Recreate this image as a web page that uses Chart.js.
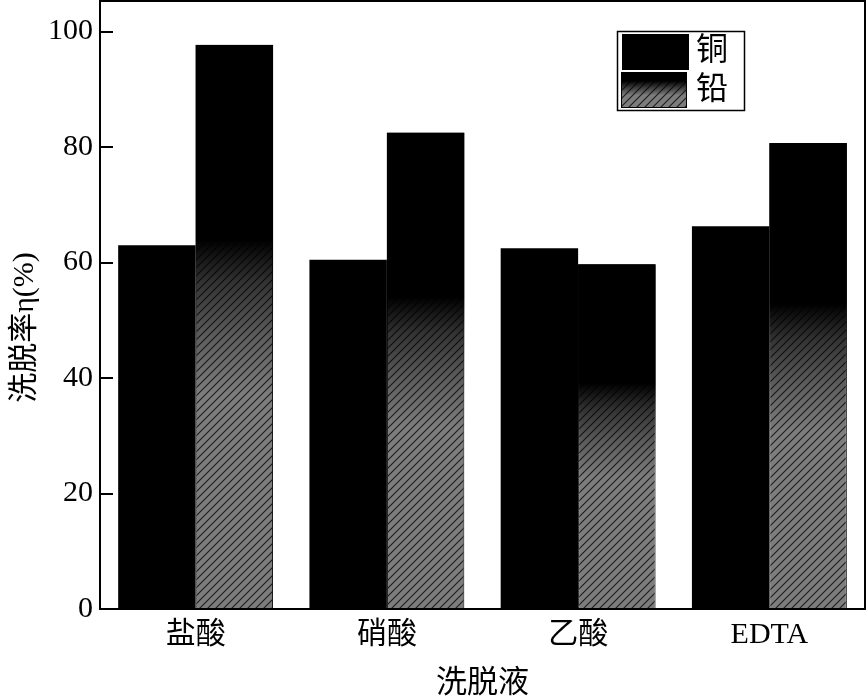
<!DOCTYPE html>
<html>
<head>
<meta charset="utf-8">
<script src="https://cdn.jsdelivr.net/npm/chart.js@4/dist/chart.umd.min.js"></script>
<style>
  html, body { margin: 0; padding: 0; background: #fff; }
  #wrap { width: 868px; height: 699px; }
</style>
</head>
<body>
<div id="wrap"><canvas id="chart"></canvas></div>
<script>
const categories = ["盐酸", "硝酸", "乙酸", "EDTA"];
const copperValues = [63.0, 60.5, 62.5, 66.3];
const leadValues = [97.7, 82.5, 59.7, 80.7];
const seriesLabels = ["铜", "铅"];
const yTicks = [0, 20, 40, 60, 80, 100];

const FONT = "'Liberation Serif', 'Noto Sans CJK SC', serif";

// grey fill with thin dark "/" lines
function makeHatch() {
  const c = document.createElement("canvas");
  c.width = 8; c.height = 8;
  const g = c.getContext("2d");
  g.fillStyle = "#7d7d7d";
  g.fillRect(0, 0, 8, 8);
  g.strokeStyle = "#1e1e1e";
  g.lineWidth = 1.1;
  g.beginPath();
  g.moveTo(-1, 9); g.lineTo(9, -1);
  g.moveTo(-1, 1); g.lineTo(1, -1);
  g.moveTo(7, 9); g.lineTo(9, 7);
  g.stroke();
  return g.createPattern(c, "repeat");
}
const hatch = makeHatch();

// black that fades into the hatch, from the top of a rect downwards
function fadeFill(ctx, x, y, w, h, stops) {
  const grad = ctx.createLinearGradient(0, y, 0, y + h);
  stops.forEach(([p, a]) => grad.addColorStop(p, "rgba(0,0,0," + a + ")"));
  ctx.fillStyle = grad;
  ctx.fillRect(x, y, w, h);
}

const barFade = {
  id: "barFade",
  afterDatasetsDraw(chart) {
    const ctx = chart.ctx;
    const meta = chart.getDatasetMeta(1);
    ctx.save();
    meta.data.forEach(bar => {
      const p = bar.getProps(["x", "y", "base", "width"], true);
      fadeFill(ctx, p.x - p.width / 2, p.y, p.width, p.base - p.y,
        [[0, 1], [0.345, 1], [0.42, 0.6], [0.52, 0.25], [0.62, 0]]);
    });
    ctx.restore();
  }
};

const frame = {
  id: "frame",
  afterDraw(chart) {
    const ctx = chart.ctx;
    const a = chart.chartArea;
    const y = chart.scales.y;
    ctx.save();
    ctx.strokeStyle = "#000";
    ctx.lineWidth = 2;
    ctx.strokeRect(a.left, a.top, a.right - a.left, a.bottom - a.top);
    // inward tick marks
    ctx.beginPath();
    y.ticks.forEach(t => {
      const py = Math.round(y.getPixelForValue(t.value));
      ctx.moveTo(a.left, py);
      ctx.lineTo(a.left + 13, py);
    });
    ctx.stroke();

    // legend
    const ds = chart.data.datasets;
    ctx.lineWidth = 1.5;
    ctx.strokeRect(617.5, 31.5, 127, 79);
    ctx.fillStyle = ds[0].backgroundColor;
    ctx.fillRect(622, 34, 67, 36);
    ctx.fillStyle = ds[1].backgroundColor;
    ctx.fillRect(621, 72, 66, 36);
    fadeFill(ctx, 621, 72, 66, 36, [[0, 1], [0.25, 1], [0.65, 0]]);
    ctx.lineWidth = 1;
    ctx.strokeRect(621.5, 72.5, 65, 35);
    ctx.fillStyle = "#000";
    ctx.font = "32px " + FONT;
    ctx.textBaseline = "middle";
    ctx.fillText(ds[0].label, 696, 52);
    ctx.fillText(ds[1].label, 696, 91);
    ctx.restore();
  }
};

new Chart(document.getElementById("chart"), {
  type: "bar",
  data: {
    labels: categories,
    datasets: [
      {
        label: seriesLabels[0],
        data: copperValues,
        backgroundColor: "#000",
        borderWidth: 0
      },
      {
        label: seriesLabels[1],
        data: leadValues,
        backgroundColor: hatch,
        borderColor: "#000",
        borderWidth: 1
      }
    ]
  },
  options: {
    responsive: true,
    maintainAspectRatio: false,
    animation: false,
    layout: { padding: { top: 1, right: 3, left: 0, bottom: 0 } },
    datasets: { bar: { categoryPercentage: 0.81, barPercentage: 1.0 } },
    plugins: {
      legend: { display: false },
      tooltip: { enabled: false }
    },
    scales: {
      x: {
        grid: { display: false, drawTicks: false },
        border: { display: false },
        ticks: { color: "#000", padding: 8, font: { family: FONT, size: 30 } },
        title: {
          display: true,
          text: "洗脱液",
          color: "#000",
          padding: { top: 0, bottom: 0 },
          font: { family: FONT, size: 31, lineHeight: 1 }
        },
        afterFit: s => { s.height = 90; s.paddingLeft = 0; s.paddingRight = 0; }
      },
      y: {
        min: 0,
        max: 105.3,
        afterBuildTicks: s => { s.ticks = yTicks.map(v => ({ value: v })); },
        grid: { display: false, drawTicks: false },
        border: { display: false },
        ticks: { color: "#000", padding: 7, font: { family: FONT, size: 30 } },
        title: {
          display: true,
          text: "洗脱率η(%)      ",
          color: "#000",
          padding: { top: 10 },
          font: { family: FONT, size: 30, lineHeight: 1 }
        },
        afterFit: s => { s.width = 100; s.paddingTop = 0; s.paddingBottom = 0; }
      }
    }
  },
  plugins: [barFade, frame]
});
</script>
</body>
</html>
